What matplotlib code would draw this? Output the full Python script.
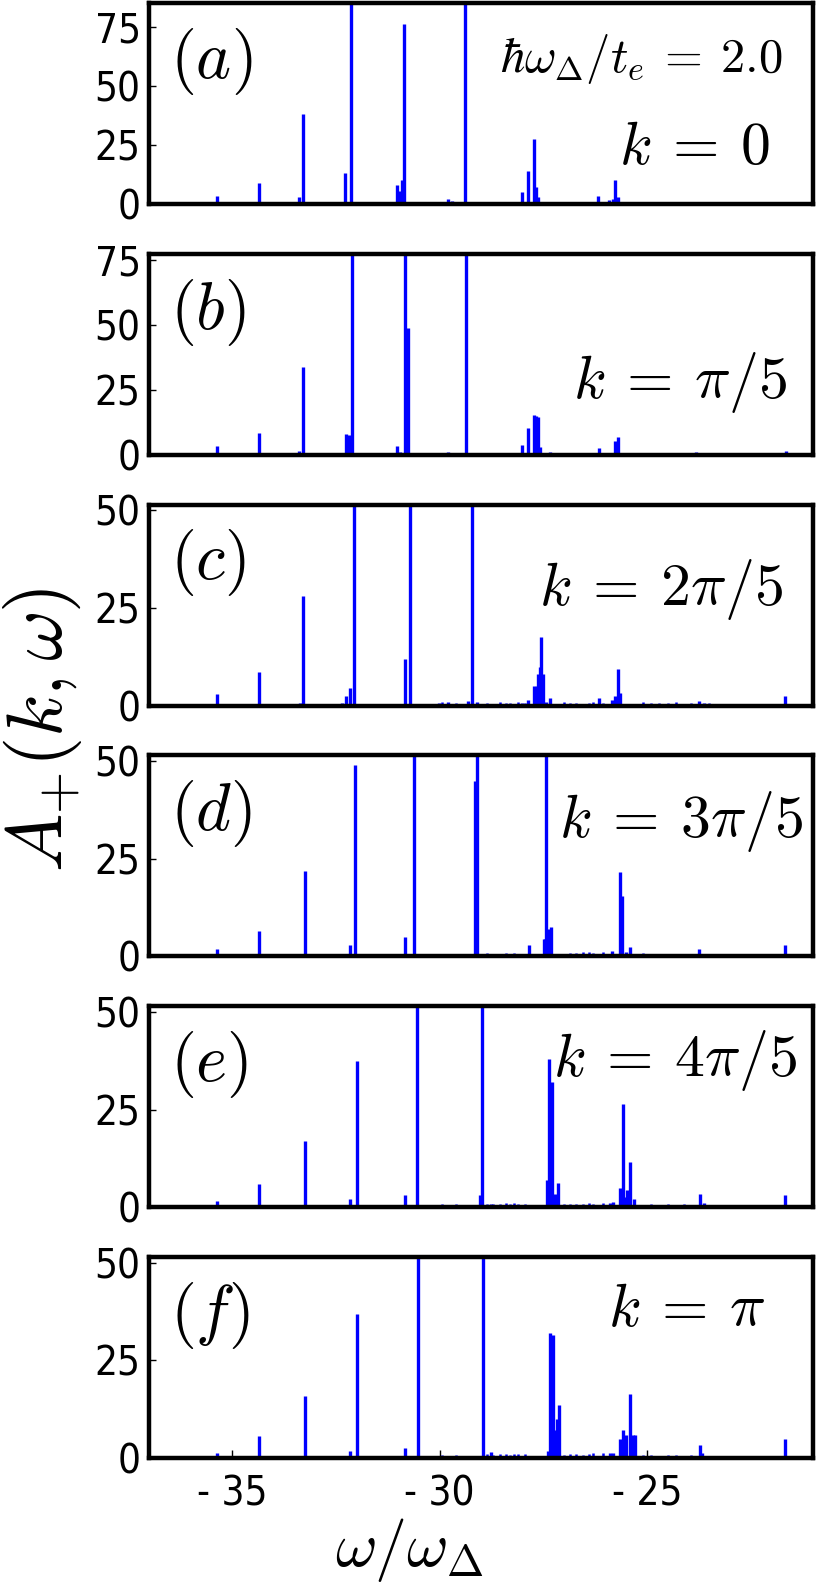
import numpy as np
import matplotlib
matplotlib.use("Agg")
from matplotlib import pyplot as plt

plt.rcParams['mathtext.fontset'] = 'cm'

# peak positions (omega/omega_Delta) and heights; 150 = off scale
pos_a = [-35.35, -34.36, -33.38, -33.29, -32.28, -32.13, -31.03, -30.95, -30.90, -30.85,
         -30.00, -29.80, -29.70, -29.55, -29.38, -28.01, -27.86, -27.73, -27.67, -27.63,
         -27.34, -26.18, -25.92, -25.82, -25.76, -25.71, -23.82, -23.25, -21.78, -21.70]
amp_a = [3.5, 9, 3, 38, 13, 150, 8, 5.5, 10, 76,
         0.8, 2, 1.2, 1.0, 150, 5, 14, 27.5, 7, 3,
         1, 3.5, 1.5, 2, 10, 3, 1, 0.6, 1, 1]

pos_b = [-35.35, -34.36, -33.38, -33.29, -32.26, -32.18, -32.10, -31.03, -30.95, -30.82,
         -30.77, -29.80, -29.73, -29.35, -28.65, -28.17, -28.01, -27.86, -27.73, -27.67,
         -27.63, -27.57, -27.34, -26.60, -26.16, -25.92, -25.76, -25.69, -25.30, -24.60,
         -23.82, -21.78, -21.65]
amp_b = [3.5, 8.5, 1.5, 34, 8, 7.5, 150, 3.5, 1, 150,
         49, 1.2, 0.7, 150, 0.5, 0.5, 3.7, 10.5, 15.5, 15,
         14.5, 3, 1, 0.5, 2.5, 0.6, 5.5, 7, 0.6, 0.5,
         1, 0.6, 1.5]

pos_c = [-35.35, -34.36, -33.36, -33.28, -32.35, -32.26, -32.16, -32.07, -31.30, -31.00,
         -30.82, -30.71, -30.01, -29.80, -29.64, -29.31, -29.22, -29.10, -28.01, -27.86,
         -27.72, -27.65, -27.62, -27.59, -27.55, -27.51, -27.44, -27.34, -26.15, -25.92,
         -25.85, -25.76, -25.69, -25.64, -23.75, -23.62, -21.78, -21.67]
amp_c = [3, 8.5, 0.6, 28, 0.6, 2.5, 4.5, 150, 0.3, 0.5,
         12, 150, 0.6, 1, 0.5, 1.2, 150, 0.8, 0.7, 1.5,
         5, 5, 8, 10, 17.5, 8, 1, 2, 2, 0.5,
         1.5, 2.5, 9.3, 3.2, 1.2, 0.6, 0.4, 2.5]

pos_d = [-35.35, -34.34, -33.33, -33.25, -32.24, -32.15, -32.03, -30.82, -30.62, -29.14,
         -29.09, -27.84, -27.49, -27.46, -27.44, -27.39, -27.31, -27.18, -25.85, -25.66,
         -25.61, -25.50, -25.42, -23.74, -21.67]
amp_d = [2, 6.5, 0.6, 22, 0.6, 2.8, 49, 5, 150, 45,
         150, 3, 4.5, 4.5, 150, 7, 7.5, 0.7, 1.4, 21.5,
         15.5, 1, 2.5, 2, 3]

pos_e = [-35.35, -34.34, -33.25, -32.15, -31.98, -30.82, -30.55, -29.03, -28.97, -28.77,
         -27.42, -27.37, -27.28, -27.21, -27.15, -27.07, -25.89, -25.82, -25.66, -25.59,
         -25.53, -25.47, -25.40, -25.32, -23.72, -23.62, -21.67]
amp_e = [1.5, 6, 17, 2.2, 37.5, 3, 150, 3, 150, 0.7,
         7, 38, 32, 3.5, 6.3, 0.6, 1.2, 1.3, 4.8, 26.5,
         2.7, 4.5, 11.5, 2, 3.5, 1, 3]

pos_f = [-35.35, -34.34, -33.25, -32.15, -31.98, -30.82, -30.53, -29.66, -29.09, -28.96,
         -28.86, -28.77, -27.39, -27.34, -27.27, -27.21, -27.17, -27.13, -27.07, -25.89,
         -25.82, -25.66, -25.57, -25.50, -25.40, -25.34, -25.29, -23.72, -23.67, -21.67]
amp_f = [1.4, 5.7, 16, 1.8, 37, 2.6, 150, 0.6, 0.6, 150,
         0.6, 1.5, 1.8, 32, 31.5, 7.3, 10, 13.5, 0.6, 1.2,
         1.2, 4.8, 7.3, 5.8, 16.5, 5.8, 5.8, 3.3, 1.2, 4.8]

# low background between the peaks
noise_pos = [-29.95, -29.60, -28.85, -28.70, -28.55, -28.40, -28.30, -28.20, -28.10, -27.95,
             -27.00, -26.85, -26.70, -26.55, -26.40, -26.30, -26.05, -25.10, -24.90, -24.70,
             -24.50, -24.30, -24.10, -23.95, -23.50, -23.30, -22.90, -22.60, -22.20, -21.90]
noise_a = [0.5, 0.3, 0, 0, 0.3, 0, 0.3, 0, 0.4, 0, 0.7, 0.4, 0, 0.3, 0.5, 0, 0.6, 0.4, 0, 0.3,
           0.4, 0, 0, 0.3, 0.4, 0, 0.4, 0, 0.3, 0]
noise_b = [0.5, 0.3, 0.4, 0, 0.3, 0.4, 0, 0.3, 0.5, 0.4, 0.6, 0.4, 0.5, 0.3, 0.4, 0.3, 0.5, 0.6, 0.4, 0.5,
           0.3, 0.4, 0.6, 0.5, 0.3, 0.4, 0.3, 0, 0.3, 0.4]
noise_c = [0.8, 0.6, 0.7, 0.5, 0.8, 0.6, 0.7, 0.5, 0.8, 0.7, 0.8, 0.6, 0.7, 0.5, 0.7, 0.8, 0.6, 0.8, 0.6, 0.7,
           0.6, 0.8, 0.5, 0.7, 0.6, 0.5, 0.4, 0.5, 0.4, 0.5]
noise_d = [0.6, 0.7, 0.8, 0.6, 0.7, 0.9, 0.6, 0.8, 0.7, 0.6, 0.7, 0.9, 0.8, 1.0, 1.1, 0.8, 1.0, 0.8, 0.6, 0.7,
           0.5, 0.6, 0.7, 0.5, 0.6, 0.5, 0.4, 0.5, 0.4, 0.5]
noise_e = [0.7, 0.8, 0.7, 0.9, 0.8, 1.0, 0.8, 1.1, 0.9, 0.8, 0.8, 0.7, 0.9, 0.8, 1.0, 0.8, 1.1, 0.6, 0.7, 0.6,
           0.8, 0.5, 0.7, 0.6, 0.5, 0.6, 0.4, 0.5, 0.4, 0.5]
noise_f = [0.7, 0.8, 0.9, 0.8, 0.9, 1.0, 0.8, 1.1, 1.0, 0.9, 0.8, 0.9, 1.0, 0.8, 1.1, 1.2, 1.3, 0.7, 0.8, 0.6,
           0.8, 0.7, 0.6, 0.7, 0.5, 0.6, 0.5, 0.4, 0.5, 0.4]

panel_tags = [r'$(a)$', r'$(b)$', r'$(c)$', r'$(d)$', r'$(e)$', r'$(f)$']
k_labels = [r'$k\:=\:0$', r'$k\:=\:\pi/5$', r'$k\:=\:2\pi/5$', r'$k\:=\:3\pi/5$',
            r'$k\:=\:4\pi/5$', r'$k\:=\:\pi$']
y_tops = [85, 77.5, 51.5, 51.5, 51.5, 51.5]
y_ticks = [[0, 25, 50, 75], [0, 25, 50, 75], [0, 25, 50], [0, 25, 50], [0, 25, 50], [0, 25, 50]]
x_ticks = [-35, -30, -25]
x_ticklabels = ['- 35', '- 30', '- 25']

all_pos = [pos_a, pos_b, pos_c, pos_d, pos_e, pos_f]
all_amp = [amp_a, amp_b, amp_c, amp_d, amp_e, amp_f]
all_noise = [noise_a, noise_b, noise_c, noise_d, noise_e, noise_f]

# text placement per panel (axes fraction)
k_xy = [(0.935, 0.28), (0.962, 0.36), (0.955, 0.58), (0.985, 0.67), (0.977, 0.73), (0.929, 0.74)]

tick_font = dict(family='DejaVu Sans', stretch='condensed', size=29)

fig = plt.figure(figsize=(8.18, 15.95), dpi=100)
left, width = 149 / 818, 664 / 818
h = 201 / 1595
step = 250.8 / 1595
bottom0 = 1 - 1458 / 1595

for i in range(6):
    ax = fig.add_axes([left, bottom0 + (5 - i) * step, width, h])
    ax.vlines(all_pos[i], 0, all_amp[i], color='#0000ff', lw=2.4)
    ax.vlines(noise_pos, 0, all_noise[i], color='#0000ff', lw=1.8)
    ax.set_xlim(-37, -21)
    ax.set_ylim(0, y_tops[i])
    ax.set_yticks(y_ticks[i])
    ax.set_yticklabels([str(v) for v in y_ticks[i]], fontdict=tick_font)
    ax.tick_params(axis='y', direction='in', length=5, width=1, pad=6)
    for s in ax.spines.values():
        s.set_linewidth(3.2)
    if i == 5:
        ax.set_xticks(x_ticks)
        ax.set_xticklabels(x_ticklabels, fontdict=tick_font)
        ax.tick_params(axis='x', direction='in', length=6, width=1, pad=12)
    else:
        ax.set_xticks([])
    ax.text(0.032, 0.71, panel_tags[i], transform=ax.transAxes, fontsize=48,
            ha='left', va='center')
    ax.text(k_xy[i][0], k_xy[i][1], k_labels[i], transform=ax.transAxes, fontsize=43,
            ha='right', va='center')
    if i == 0:
        ax.text(0.955, 0.72, r'$\hbar\omega_\Delta/t_e\:=\:2.0$', transform=ax.transAxes,
                fontsize=35, ha='right', va='center')

fig.text(42 / 818, 1 - 730 / 1595, r'$A_{+}(k,\omega)$', fontsize=56, rotation=90,
         ha='center', va='center')
fig.text(409 / 818, 1 - 1550 / 1595, r'$\omega/\omega_\Delta$', fontsize=46,
         ha='center', va='center')

fig.savefig('out.png', dpi=100)
